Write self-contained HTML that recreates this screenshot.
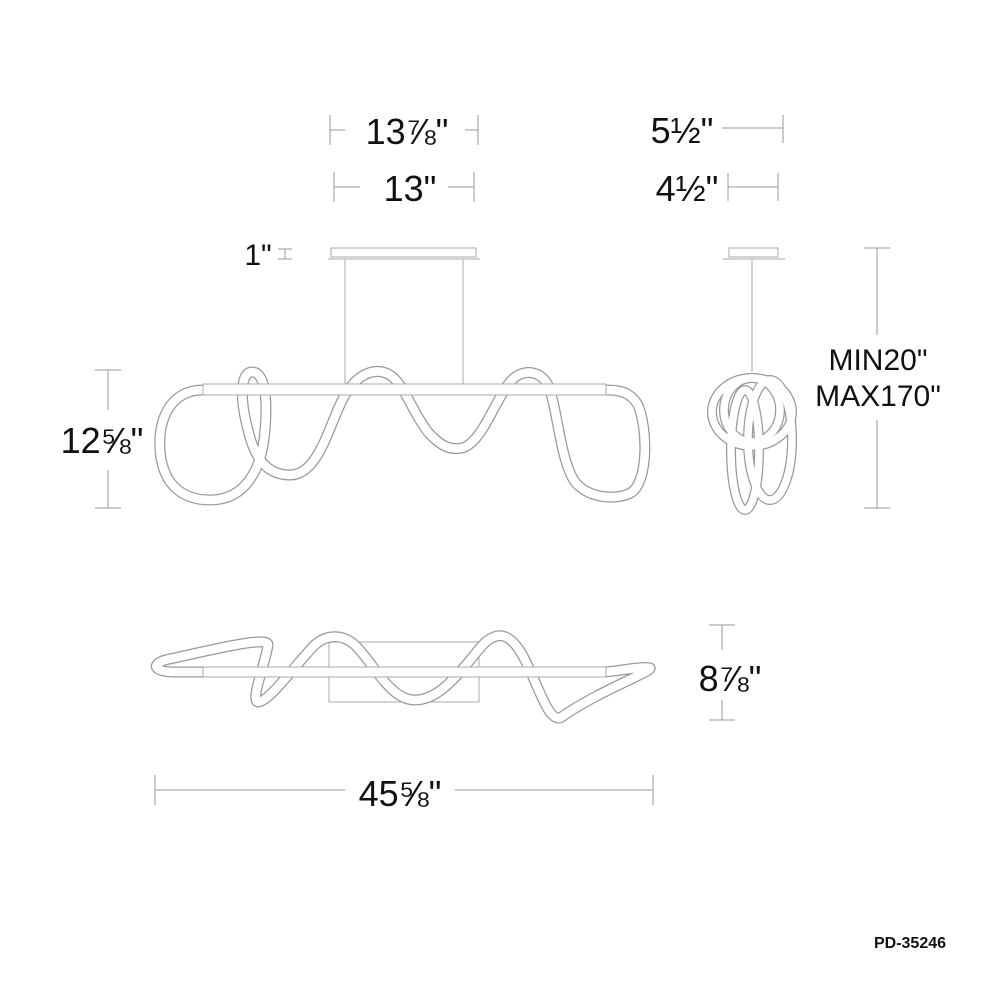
<!DOCTYPE html>
<html><head><meta charset="utf-8"><style>
html,body{margin:0;padding:0;background:#fff;}
svg{display:block;}
text{font-family:"Liberation Sans","DejaVu Sans",sans-serif;fill:#111;}
</style></head><body>
<svg width="1000" height="1000" viewBox="0 0 1000 1000" xmlns="http://www.w3.org/2000/svg">
<rect width="1000" height="1000" fill="#fff"/>
<g stroke="#999" stroke-width="1" fill="none">
<path d="M330,115V145M330,130H345M465,130H478M478,115V145"/>
<path d="M334,172V202M334,187H360M448,187H474M474,172V202"/>
<path d="M722,128H783M783,115V143"/>
<path d="M728,187H778M778,173V201M728,173V201"/>
<path d="M278,249H292M278,259H292M285,249V259"/>
<path d="M95,370H121M108,370V410M108,470V508M95,508H121"/>
<path d="M864,248H890M877,248V335M877,420V508M864,508H890"/>
<path d="M709,625H735M722,625V650M722,700V720M709,720H735"/>
<path d="M155,775V805M155,790H345M455,790H653M653,775V805"/>
</g>
<g fill="none" stroke="#aaa">
<rect x="331" y="248" width="145" height="9" fill="#fff"/>
<path d="M328,259H480"/>
<path d="M345,259V384M463,259V384"/>
</g>
<g fill="none" stroke-linecap="round" stroke-linejoin="round">
<path d="M203,390 C170,390 158,420 160,450 C163,490 188,500 210,500 C245,500 262,470 265,430 C268,395 264,372 252,372 C240,372 240,400 248,430 C255,460 268,475 290,475 C320,475 330,420 345,395 C360,370 378,368 390,375 C405,385 412,412 428,432 C442,448 452,450 462,448 C482,443 495,400 510,382 C522,368 540,370 548,385 C558,410 560,460 575,482 C590,500 620,500 632,492 C648,480 648,430 638,405 C630,392 620,390 606,390" stroke="#999" stroke-width="11"/>
<path d="M203,390 C170,390 158,420 160,450 C163,490 188,500 210,500 C245,500 262,470 265,430 C268,395 264,372 252,372 C240,372 240,400 248,430 C255,460 268,475 290,475 C320,475 330,420 345,395 C360,370 378,368 390,375 C405,385 412,412 428,432 C442,448 452,450 462,448 C482,443 495,400 510,382 C522,368 540,370 548,385 C558,410 560,460 575,482 C590,500 620,500 632,492 C648,480 648,430 638,405 C630,392 620,390 606,390" stroke="#fff" stroke-width="8.5"/>
</g>
<rect x="203" y="384" width="403" height="11" fill="#fff" stroke="#aaa"/>
<g fill="none" stroke="#aaa">
<rect x="729" y="248" width="49" height="9" fill="#fff"/>
<path d="M723,259H785M752,259V372"/>
</g>
<g fill="none">
<g stroke="#999" stroke-width="10">
<ellipse cx="752" cy="412" rx="40" ry="34"/>
<ellipse cx="745" cy="450" rx="14" ry="60"/>
<ellipse cx="770" cy="440" rx="22" ry="60"/>
<ellipse cx="752" cy="410" rx="28" ry="32"/>
</g>
<g stroke="#fff" stroke-width="7.5">
<ellipse cx="752" cy="412" rx="40" ry="34"/>
<ellipse cx="745" cy="450" rx="14" ry="60"/>
<ellipse cx="770" cy="440" rx="22" ry="60"/>
<ellipse cx="752" cy="410" rx="28" ry="32"/>
</g>
</g>
<rect x="329" y="642" width="150" height="60" fill="#fff" stroke="#aaa"/>
<g fill="none" stroke-linecap="round" stroke-linejoin="round">
<path d="M606,672 C625,670 645,666 650,668 C652,672 600,690 560,718 C548,720 540,690 525,660 C510,630 495,630 480,648 C460,672 440,700 415,700 C390,700 375,665 355,645 C340,632 322,635 310,650 C290,672 268,702 258,702 C250,700 265,665 268,645 C268,636 220,648 165,660 C150,665 155,672 175,672 L203,672" stroke="#999" stroke-width="11"/>
<path d="M606,672 C625,670 645,666 650,668 C652,672 600,690 560,718 C548,720 540,690 525,660 C510,630 495,630 480,648 C460,672 440,700 415,700 C390,700 375,665 355,645 C340,632 322,635 310,650 C290,672 268,702 258,702 C250,700 265,665 268,645 C268,636 220,648 165,660 C150,665 155,672 175,672 L203,672" stroke="#fff" stroke-width="8.5"/>
</g>
<rect x="203" y="667" width="403" height="10" fill="#fff" stroke="#aaa"/>
<g font-size="36">
<text x="407" y="144" text-anchor="middle">13⅞"</text>
<text x="410" y="201" text-anchor="middle">13"</text>
<text x="682" y="143" text-anchor="middle">5½"</text>
<text x="687" y="201" text-anchor="middle">4½"</text>
<text x="102" y="453" text-anchor="middle">12⅝"</text>
<text x="730" y="691" text-anchor="middle">8⅞"</text>
<text x="400" y="806" text-anchor="middle">45⅝"</text>
</g>
<text x="258" y="265" font-size="30" text-anchor="middle">1"</text>
<g font-size="30">
<text x="878" y="370" text-anchor="middle">MIN20"</text>
<text x="878" y="406" text-anchor="middle">MAX170"</text>
</g>
<text x="910" y="948" font-size="16" font-weight="bold" text-anchor="middle">PD-35246</text>
</svg>
</body></html>
